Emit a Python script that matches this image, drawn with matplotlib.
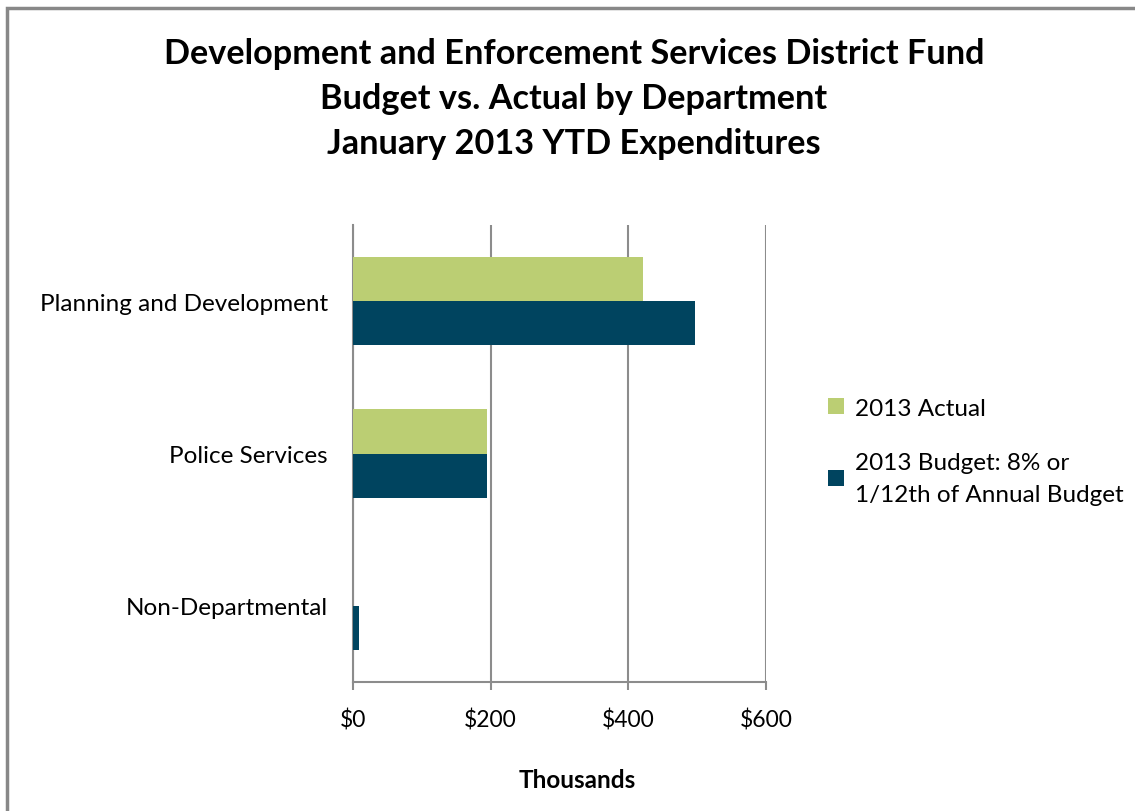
import numpy as np
import matplotlib.pyplot as plt
from matplotlib.patches import Rectangle

departments = ['Planning and Development', 'Police Services', 'Non-Departmental']
actual = [421, 195, 0]      # thousands
budget = [497, 195, 9]      # thousands
series_names = ['2013 Actual', '2013 Budget: 8% or\n1/12th of Annual Budget']
xticks = [0, 200, 400, 600]
xtick_labels = ['$0', '$200', '$400', '$600']

green = '#BBCE73'
navy = '#00445F'
grid_gray = '#8C8C8C'

plt.rcParams['font.family'] = ['Lato', 'DejaVu Sans']

W, H = 1135, 812
fig = plt.figure(figsize=(W / 100, H / 100), dpi=100)

# outer chart border (runs off right/bottom edge)
fig.patches.append(Rectangle((7 / W, -0.05), 1.1, 1 - 9 / H + 0.05, transform=fig.transFigure,
                             fill=False, edgecolor='#888888', linewidth=2.5, zorder=0))

ax = fig.add_axes([353 / W, 1 - 683 / H, (766 - 353) / W, (683 - 226) / H])

y = np.arange(len(departments))
h = 0.29
ax.barh(y - h / 2, actual, height=h, color=green, label=series_names[0], zorder=3)
ax.barh(y + h / 2, budget, height=h, color=navy, label=series_names[1], zorder=3)

ax.set_ylim(len(departments) - 0.5, -0.5)
ax.set_xlim(0, 600)
ax.set_yticks(y)
ax.set_yticklabels(departments, fontsize=17.5)
ax.set_xticks(xticks)
ax.set_xticklabels(xtick_labels, fontsize=16.5)
ax.tick_params(axis='y', length=0, pad=18)
ax.tick_params(axis='x', length=6, color=grid_gray, width=1.5, pad=13, direction='out')

ax.grid(axis='x', color=grid_gray, linewidth=1.5, zorder=0)
for s in ['top', 'right']:
    ax.spines[s].set_visible(False)
for s in ['left', 'bottom']:
    ax.spines[s].set_color(grid_gray)
    ax.spines[s].set_linewidth(1.5)

leg = fig.legend(loc='upper left', bbox_to_anchor=(806 / W, 1 - 377 / H), frameon=False,
                 fontsize=17.5, handlelength=0.65, handleheight=0.65, handletextpad=0.45,
                 labelspacing=1.35)
for t in leg.get_texts():
    t.set_linespacing(1.65)

fig.text(574 / W, 1 - 99 / H,
         'Development and Enforcement Services District Fund\nBudget vs. Actual by Department\nJanuary 2013 YTD Expenditures',
         ha='center', va='center', fontsize=24.7, fontweight='bold', linespacing=1.5)

fig.text(577 / W, 1 - 781 / H, 'Thousands', ha='center', va='center', fontsize=17.5, fontweight='bold')

fig.savefig('out.png', dpi=100)
